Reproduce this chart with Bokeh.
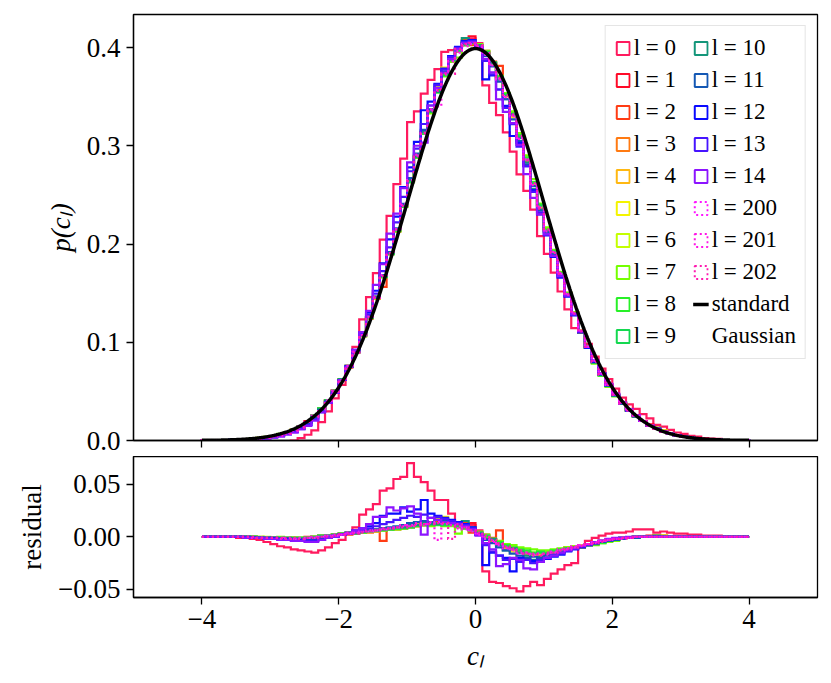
import numpy as np
from bokeh.plotting import figure
from bokeh.layouts import column
from bokeh.models import Legend, LegendItem, Range1d, FixedTicker, CustomLabelingPolicy
from bokeh.embed import file_html
from bokeh.resources import INLINE

# ---------------- data ----------------
bin_lo, bin_hi, n_bins = -4.0, 4.0, 80
gauss_mu, gauss_sigma = 0.0, 1.0
res_unit = 0.001  # residual values below are in thousandths

labels = ["l = 0", "l = 1", "l = 2", "l = 3", "l = 4", "l = 5", "l = 6", "l = 7",
          "l = 8", "l = 9", "l = 10", "l = 11", "l = 12", "l = 13", "l = 14",
          "l = 200", "l = 201", "l = 202"]
colors = ["#ff1a5e", "#ff0a28", "#ff3c14", "#ff7a12", "#ffb812", "#f4f400",
          "#c4ff00", "#74ff00", "#28f028", "#14d850", "#14967a", "#1458b4",
          "#0a0aff", "#4614ff", "#8c14ff", "#ff14ff", "#ff14e6", "#ff1ab0"]
dotted = [False] * 15 + [True] * 3
gauss_label = ["standard", "Gaussian"]

res_l0 = [0, 0, 0, 0, 0, -1, -1, -2, -3, -5,
          -7, -9, -10, -12, -13, -14, -15, -13, -10, -6,
          -3, 3, 9, 21, 26, 31, 44, 46, 55, 57,
          70, 57, 52, 44, 35, 35, 22, 9, 8, 11,
          6, -33, -43, -44, -47, -49, -52, -47, -43, -46,
          -40, -35, -31, -27, -25, -10, -4, -1, 1, 3,
          4, 4, 5, 7, 7, 7, 4, 5, 4, 3,
          3, 2, 2, 1, 1, 1, 0, 0, 0, 0]
res_l1 = [0, 0, 0, 0, 0, 0, 0, -1, -1, -1,
          -1, -2, -1, -1, -2, 0, -1, 1, 1, 2,
          2, 4, 3, 5, 6, 5, 8, 7, 9, 8,
          10, 12, 11, 13, 12, 14, 11, 12, 10, 13,
          2, -1, -2, -7, -8, -13, -13, -17, -16, -18,
          -15, -16, -12, -12, -9, -10, -7, -7, -4, -4,
          -2, -2, -1, 0, 0, 1, 0, 1, 0, 0,
          0, 0, 0, 0, 0, 0, 0, 0, 0, 0]
res_l2 = [0, 0, 0, 0, 0, 0, -1, 0, -1, -1,
          -1, -1, -2, -1, -1, -2, 0, 0, 1, 1,
          3, 2, 4, 4, 6, 5, -4, 8, 7, 10,
          9, 10, 13, 11, 14, 12, 13, 10, 13, 4,
          4, 2, -1, 6, -10, -11, -15, -15, -18, -16,
          -17, -14, -14, -10, -11, -8, -8, -6, -5, -3,
          -3, -1, -1, -1, 0, 0, 1, 0, 0, 0,
          0, 0, 0, 0, 0, 0, 0, 0, 0, 0]
res_l3 = [0, 0, 0, 0, 0, 0, 0, 0, -1, -1,
          -1, -1, -2, -1, -2, -1, 0, 0, 1, 2,
          2, 3, 4, 5, 4, 7, 6, 8, 8, 9,
          11, 10, 12, 13, 12, 12, 13, 10, 10, 6,
          3, 1, -4, -5, -10, -11, -15, -15, -16, -18,
          -15, -14, -14, -11, -9, -9, -7, -6, -5, -3,
          -3, -1, -1, 0, 0, 0, 1, 0, 0, 0,
          0, 0, 0, 0, 0, 0, 0, 0, 0, 0]
res_l4 = [0, 0, 0, 0, 0, 0, 0, 0, 0, -1,
          -1, -1, -1, -2, -1, -1, 0, 0, 1, 1,
          3, 3, 5, 4, 6, 6, 7, 8, 7, 9,
          10, 12, 11, 14, 12, 13, 11, 12, 8, 8,
          2, 1, -2, -7, -8, -12, -13, -17, -16, -17,
          -17, -14, -13, -12, -10, -8, -8, -7, -4, -4,
          -2, -2, -1, 0, 0, 0, 0, 1, 0, 0,
          0, 0, 0, 0, 0, 0, 0, 0, 0, 0]
res_l5 = [0, 0, 0, 0, 0, 0, 0, 0, -1, -1,
          -1, -1, -2, -1, -1, -1, -1, 0, 1, 2,
          2, 4, 4, 5, 5, 6, 7, 8, 8, 10,
          10, 11, 12, 14, 17, 19, 12, 10, 10, 6,
          4, -1, -3, -7, -9, -14, -22, -15, -18, -23,
          -16, -14, -14, -11, -9, -9, -8, -6, -5, -4,
          -3, -2, -1, -1, 0, 0, 1, 0, 0, 0,
          0, 0, 0, 0, 0, 0, 0, 0, 0, 0]
res_l6 = [0, 0, 0, 0, 0, 0, 0, 0, -1, 0,
          -1, -1, -1, -1, -2, -1, 0, 0, 1, 2,
          3, 3, 4, 4, 6, 5, 7, 7, 9, 8,
          11, 10, 11, 13, 12, 12, 13, 10, 9, 7,
          4, 1, -3, -5, -8, -10, -12, -14, -15, -15,
          -14, -13, -12, -10, -10, -8, -7, -6, -5, -4,
          -3, -2, -1, 0, 0, 0, 0, 1, 0, 0,
          0, 0, 0, 0, 0, 0, 0, 0, 0, 0]
res_l7 = [0, 0, 0, 0, 0, 0, 0, 0, 0, -1,
          -1, 0, -1, -1, -1, -1, 0, 1, 1, 2,
          3, 4, 4, 5, 5, 6, 6, 8, 7, 8,
          9, 11, 11, 10, 12, 10, 10, 3, 8, 6,
          5, 2, -2, -4, -7, -8, -10, -11, -12, -13,
          -13, -12, -11, -10, -9, -9, -8, -8, -6, -5,
          -4, -2, -1, -1, 0, 0, 0, 0, 0, 0,
          0, 0, 0, 0, 0, 0, 0, 0, 0, 0]
res_l8 = [0, 0, 0, 0, 0, 0, 0, 0, -1, -1,
          -1, -1, -1, -1, -1, -1, 0, 0, 1, 1,
          2, 3, 4, 4, 5, 6, 6, 7, 8, 8,
          10, 10, 11, 12, 11, 12, 12, 10, 9, 7,
          3, 0, -2, -5, -8, -10, -12, -13, -15, -14,
          -15, -13, -12, -11, -10, -10, -8, -6, -6, -4,
          -3, -2, -1, 0, 0, 0, 0, 0, 0, 0,
          0, 0, 0, 0, 0, 0, 0, 0, 0, 0]
res_l9 = [0, 0, 0, 0, 0, 0, 0, 0, -1, -1,
          -1, -1, -2, -1, -1, -1, 0, 1, 1, 1,
          2, 3, 3, 5, 5, 6, 7, 7, 8, 9,
          9, 11, 12, 12, 13, 11, 12, 10, 8, 6,
          3, 1, -3, -6, -9, -11, -13, -15, -16, -15,
          -16, -14, -13, -11, -10, -9, -7, -6, -5, -3,
          -3, -1, -1, 0, 0, 0, 0, 0, 0, 0,
          0, 0, 0, 0, 0, 0, 0, 0, 0, 0]
res_l10 = [0, 0, 0, 0, 0, 0, 0, 0, -1, -1,
           -1, -2, -1, -2, -2, -1, -1, 0, 1, 2,
           3, 3, 4, 5, 6, 6, 7, 8, 9, 9,
           11, 11, 13, 12, 12, 14, 13, 12, 15, 9,
           4, -2, -2, -8, -13, -11, -15, -18, -22, -19,
           -17, -16, -14, -13, -10, -9, -8, -7, -5, -4,
           -3, -2, -1, 0, 0, 0, 1, 0, 0, 0,
           0, 0, 0, 0, 0, 0, 0, 0, 0, 0]
res_l11 = [0, 0, 0, 0, 0, 0, 0, -1, -1, -1,
           -2, -2, -2, -2, -3, -2, -2, -1, 0, 1,
           2, 3, 4, 5, 6, 7, 8, 9, 10, 11,
           13, 14, 15, 14, 16, 15, 14, 13, 10, 7,
           2, -3, -6, -10, -13, -16, -18, -20, -19, -20,
           -18, -17, -15, -13, -11, -9, -8, -6, -5, -4,
           -3, -2, -1, -1, 0, 0, 0, 0, 0, 0,
           0, 0, 0, 0, 0, 0, 0, 0, 0, 0]
res_l12 = [0, 0, 0, 0, 0, 0, -1, -1, -1, -2,
           -1, -2, -2, -3, -3, -4, -4, -3, -1, 0,
           2, 4, 6, 8, 10, 13, 20, 22, 22, 28,
           24, 26, 35, 22, 20, 18, 16, 14, 12, 9,
           2, -27, -15, -18, -20, -33, -20, -22, -23, -24,
           -21, -19, -17, -14, -12, -10, -8, -6, -4, -3,
           -2, -1, -1, 0, 0, 0, 0, 0, 0, 0,
           0, 0, 0, 0, 0, 0, 0, 0, 0, 0]
res_l13 = [0, 0, 0, 0, 0, 0, 0, -1, -1, -1,
           -2, -2, -3, -3, -4, -4, -4, -3, -1, 0,
           2, 3, 5, 6, 8, 10, 12, 14, 16, 18,
           20, 19, 21, 18, 19, 17, 15, 13, 11, 8,
           2, -8, -14, -18, -22, -21, -24, -22, -25, -22,
           -20, -18, -16, -13, -11, -9, -7, -5, -4, -3,
           -2, -1, -1, 0, 0, 0, 0, 0, 0, 0,
           0, 0, 0, 0, 0, 0, 0, 0, 0, 0]
res_l14 = [0, 0, 0, 0, 0, 0, -1, -1, -1, -2,
           -2, -3, -3, -4, -4, -5, -5, -3, -1, 0,
           2, 3, 6, 8, 12, 19, 19, 28, 25, 27,
           29, 22, 2, 18, 16, 14, 13, 12, 10, 7,
           1, -6, -12, -28, -26, -20, -22, -30, -31, -24,
           -20, -18, -15, -13, -11, -9, -7, -5, -4, -2,
           -1, -1, 0, 0, 0, 0, 0, 0, 0, 0,
           0, 0, 0, 0, 0, 0, 0, 0, 0, 0]
res_l200 = [0, 0, 0, 0, 0, 0, 0, 0, -1, -1,
            -1, -1, -2, -2, -1, -1, -1, 0, 1, 1,
            2, 3, 4, 5, 5, 6, 7, 8, 9, 10,
            11, 12, 12, 13, 14, 13, 11, 8, 9, 5,
            2, -2, -4, -8, -10, -13, -15, -15, -17, -16,
            -16, -14, -13, -11, -9, -8, -7, -5, -4, -3,
            -2, -1, -1, 0, 0, 0, 0, 0, 0, 0,
            0, 0, 0, 0, 0, 0, 0, 0, 0, 0]
res_l201 = [0, 0, 0, 0, 0, 0, 0, -1, -1, -1,
            -1, -2, -1, -2, -2, -1, 0, 0, 1, 2,
            2, 4, 4, 5, 6, 6, 8, 8, 9, 11,
            10, 13, 11, 14, -3, 12, 11, 10, 7, 6,
            3, 0, -5, -7, -11, -12, -16, -15, -18, -17,
            -17, -15, -12, -12, -10, -8, -7, -6, -4, -3,
            -2, -2, -1, 0, 0, 0, 0, 0, 0, 0,
            0, 0, 0, 0, 0, 0, 0, 0, 0, 0]
res_l202 = [0, 0, 0, 0, 0, 0, 0, 0, -1, -1,
            -1, -1, -2, -1, -2, -1, -1, 0, 0, 1,
            2, 3, 3, 4, 5, 6, 7, 8, 9, 9,
            10, 11, 12, 12, 13, 13, -2, 12, 9, 6,
            4, 1, -3, -6, -9, -11, -13, -16, -16, -18,
            -15, -15, -13, -11, -10, -9, -7, -6, -5, -3,
            -2, -1, -1, 0, 0, 0, 0, 0, 0, 0,
            0, 0, 0, 0, 0, 0, 0, 0, 0, 0]

residuals = [res_l0, res_l1, res_l2, res_l3, res_l4, res_l5, res_l6, res_l7,
             res_l8, res_l9, res_l10, res_l11, res_l12, res_l13, res_l14,
             res_l200, res_l201, res_l202]
for r in residuals:
    assert len(r) == n_bins

x_ticks = [-4, -2, 0, 2, 4]
x_tick_text = {-4: "\u22124", -2: "\u22122", 0: "0", 2: "2", 4: "4"}
top_y_ticks = [0.0, 0.1, 0.2, 0.3, 0.4]
top_y_text = {0.0: "0.0", 0.1: "0.1", 0.2: "0.2", 0.3: "0.3", 0.4: "0.4"}
bot_y_ticks = [-0.05, 0.0, 0.05]
bot_y_text = {-0.05: "\u22120.05", 0.0: "0.00", 0.05: "0.05"}

# ---------------- derived ----------------
edges = np.linspace(bin_lo, bin_hi, n_bins + 1)
centers = 0.5 * (edges[:-1] + edges[1:])


def gauss(x):
    return np.exp(-0.5 * ((x - gauss_mu) / gauss_sigma) ** 2) / (gauss_sigma * np.sqrt(2 * np.pi))


def step_path(vals):
    xs = np.repeat(edges, 2)
    ys = np.concatenate([[0.0], np.repeat(vals, 2), [0.0]])
    return xs, ys


FONT = "Liberation Serif"
TICK_SIZE = "27px"
LW = 2.2


def style(p, ylabel, yticks, ytext, show_x_labels, xlabel=None):
    p.grid.visible = False
    p.outline_line_color = "black"
    p.outline_line_width = 1.3
    for ax in p.axis:
        ax.axis_line_color = "black"
        ax.axis_line_width = 1.3
        ax.major_tick_line_color = "black"
        ax.major_tick_line_width = 1.3
        ax.major_tick_in = 0
        ax.major_tick_out = 7
        ax.minor_tick_line_color = None
        ax.major_label_text_font = FONT
        ax.major_label_text_font_size = TICK_SIZE
        ax.major_label_text_color = "black"
        ax.axis_label_text_font = FONT
        ax.axis_label_text_font_size = "27px"
        ax.axis_label_text_font_style = "normal"
        ax.axis_label_text_color = "black"
    p.xaxis.ticker = FixedTicker(ticks=x_ticks)
    p.xaxis.major_label_overrides = x_tick_text
    p.yaxis.ticker = FixedTicker(ticks=yticks)
    p.yaxis.major_label_overrides = ytext
    p.yaxis.axis_label = ylabel
    p.yaxis.major_label_standoff = 6
    p.yaxis.axis_label_standoff = 8
    if show_x_labels:
        p.xaxis.major_label_standoff = 5
        p.xaxis.axis_label = xlabel
        p.xaxis.axis_label_standoff = 10
        p.xaxis.axis_label_text_font_style = "italic"
    else:
        p.xaxis.major_label_text_font_size = "1px"
        p.xaxis.major_label_standoff = 0
        p.xaxis.major_label_policy = CustomLabelingPolicy(code="return new Set()")


xr = Range1d(-5, 5)
p1 = figure(width=823, height=456, x_range=xr, y_range=Range1d(0, 0.4336),
            output_backend="svg", toolbar_location=None,
            min_border_left=133, min_border_right=6, min_border_top=14, min_border_bottom=16)
p2 = figure(width=823, height=219, x_range=xr, y_range=Range1d(-0.0578, 0.0764),
            output_backend="svg", toolbar_location=None,
            min_border_left=133, min_border_right=6, min_border_top=0, min_border_bottom=78)

style(p1, "p(c\u2097)", top_y_ticks, top_y_text, False)
p1.yaxis.axis_label_text_font_style = "italic"
style(p2, "residual", bot_y_ticks, bot_y_text, True, "c\u2097")

nan1 = np.array([np.nan])
items = []
for lab, col, dot, res in zip(labels, colors, dotted, residuals):
    r = np.array(res, dtype=float) * res_unit
    hist = gauss(centers) + r
    dash = "2 3" if dot else "solid"
    xs, ys = step_path(hist)
    p1.line(xs, ys, line_color=col, line_width=LW, line_dash=dash, line_join="miter")
    xs2, ys2 = step_path(r)
    p2.line(xs2, ys2, line_color=col, line_width=LW, line_dash=dash, line_join="miter")
    # legend handle: an outlined (unfilled) square, as for step histograms
    handle = p1.quad(left=nan1, right=nan1, top=nan1, bottom=nan1, fill_alpha=0,
                     line_color=col, line_width=2.0, line_dash=dash)
    items.append(LegendItem(label=lab, renderers=[handle]))

gx = np.linspace(bin_lo, bin_hi, 801)
g_r = p1.line(gx, gauss(gx), line_color="black", line_width=3.5)
items.append(LegendItem(label=gauss_label[0], renderers=[g_r]))
blank = p1.line(nan1, nan1, line_alpha=0)
items.append(LegendItem(label=gauss_label[1], renderers=[blank]))

legend = Legend(items=items, location="top_right", orientation="vertical", nrows=10,
                label_text_font=FONT, label_text_font_size="23px", label_text_color="black",
                glyph_width=16, glyph_height=16, label_standoff=3, label_width=53,
                spacing=6, padding=9, margin=11,
                border_line_color="#cccccc", border_line_width=1.3,
                background_fill_color="white", background_fill_alpha=0.8)
p1.add_layout(legend, "center")

layout = column(p1, p2, spacing=0)
open("out.html", "w").write(file_html(layout, INLINE))
